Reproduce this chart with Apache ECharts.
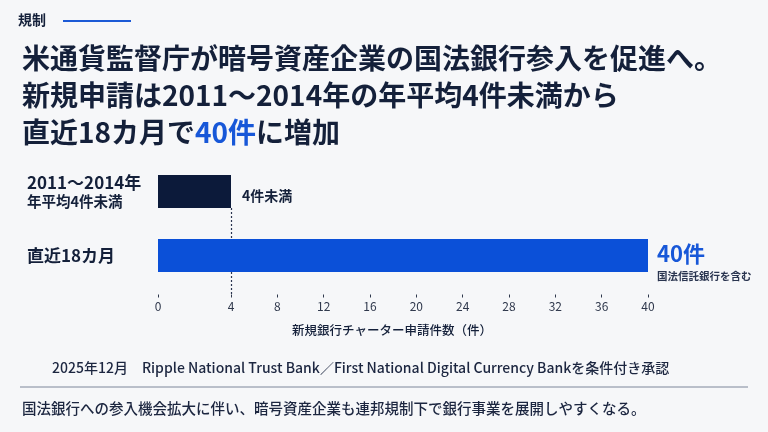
<!DOCTYPE html>
<html><head><meta charset="utf-8">
<script src="https://cdn.jsdelivr.net/npm/echarts@6.0.0/dist/echarts.min.js"></script>
<style>html,body{margin:0;padding:0;background:#f6f7f9}#c{width:768px;height:432px}</style>
</head><body><div id="c"></div>
<script>
const categoryMain = ['2011〜2014年', '直近18カ月'];
const categorySub = ['年平均4件未満', ''];
const values = [4, 40];
const valueLabels = ['4件未満', '40件'];
const valueNotes = ['', '国法信託銀行を含む'];
const breakValue = 4;
const axisMax = 40;
const tickStep = 4;
const axisName = '新規銀行チャーター申請件数（件）';
const kicker = '規制';
const titleLines = ['米通貨監督庁が暗号資産企業の国法銀行参入を促進へ。', '新規申請は2011〜2014年の年平均4件未満から', '直近18カ月で{hl|40件}に増加'];
const footnote = '2025年12月　Ripple National Trust Bank／First National Digital Currency Bankを条件付き承認';
const summary = '国法銀行への参入機会拡大に伴い、暗号資産企業も連邦規制下で銀行事業を展開しやすくなる。';

const NAVY = '#14203a', BAR1 = '#0c1a3a', BLUE = '#0b50d8', FONT = '"Noto Sans CJK JP","Noto Sans",sans-serif';
const barColors = [BAR1, BLUE];
const chart = echarts.init(document.getElementById('c'), null, {renderer: 'canvas'});

const gridTop = 159.5, gridH = 128;
const axisLabelStyle = {color: '#2f384c', fontSize: 12, fontFamily: FONT};
const axisLineStyle = {lineStyle: {color: '#2f384c', width: 1.3}};

const catAxis = (idx, show) => ({
  type: 'category', gridIndex: idx, data: categoryMain, inverse: true, show: show,
  axisLine: {show: false}, axisTick: {show: false},
  axisLabel: {
    show: show, align: 'left', margin: 131,
    formatter: (v, i) => categorySub[i] ? '{a|' + v + '}\n{b|' + categorySub[i] + '}' : '{a|' + v + '}',
    rich: {
      a: {fontSize: 17, fontWeight: 'bold', color: NAVY, fontFamily: FONT, lineHeight: 20},
      b: {fontSize: 14.5, fontWeight: 'bold', color: NAVY, fontFamily: FONT, lineHeight: 18}
    }
  }
});

chart.setOption({
  backgroundColor: '#f6f7f9',
  animation: false,
  title: [
    {text: kicker, left: 18, top: 12, padding: 0, textStyle: {fontSize: 14, fontWeight: 'bold', color: NAVY, fontFamily: FONT, lineHeight: 16}},
    {text: titleLines.join('\n'), left: 22, top: 40, padding: 0,
     textStyle: {fontSize: 28, fontWeight: 'bold', color: NAVY, fontFamily: FONT, lineHeight: 37,
       rich: {hl: {fontSize: 28, fontWeight: 'bold', color: '#1757d8', fontFamily: FONT, lineHeight: 37}}}}
  ],
  graphic: [
    {type: 'line', shape: {x1: 63, y1: 21, x2: 131, y2: 21}, style: {stroke: '#1c5ad6', lineWidth: 2.2}},
    {type: 'text', x: 392, y: 330, style: {text: axisName, fill: NAVY, font: '500 12.5px ' + FONT, textAlign: 'center', textVerticalAlign: 'middle'}},
    {type: 'text', x: 52, y: 368, style: {text: footnote, fill: '#1c2640', font: '500 14px ' + FONT, textVerticalAlign: 'middle'}},
    {type: 'line', shape: {x1: 20, y1: 387, x2: 748, y2: 387}, style: {stroke: '#7d869a', lineWidth: 1}},
    {type: 'text', x: 22, y: 408, style: {text: summary, fill: '#1c2640', font: '500 14.5px ' + FONT, textVerticalAlign: 'middle'}}
  ],
  grid: [
    {left: 158, width: 73, top: gridTop, height: gridH, containLabel: false, outerBoundsMode: 'none'},
    {left: 231, width: 417, top: gridTop, height: gridH, containLabel: false, outerBoundsMode: 'none'},
    {left: 158, width: 73, top: 208, height: 86, containLabel: false, outerBoundsMode: 'none'}
  ],
  xAxis: [
    {type: 'value', gridIndex: 0, min: 0, max: breakValue, interval: tickStep, offset: 7,
     axisLine: axisLineStyle, axisTick: {show: true, length: 3, lineStyle: {color: '#2f384c'}},
     axisLabel: Object.assign({margin: 6}, axisLabelStyle), splitLine: {show: false}},
    {type: 'value', gridIndex: 1, min: breakValue, max: axisMax, interval: tickStep, offset: 7,
     axisLine: axisLineStyle, axisTick: {show: true, length: 3, lineStyle: {color: '#2f384c'}},
     axisLabel: Object.assign({margin: 6, showMinLabel: false}, axisLabelStyle), splitLine: {show: false}},
    {type: 'value', gridIndex: 2, min: 0, max: breakValue, interval: tickStep,
     axisLine: {show: false}, axisTick: {show: false}, axisLabel: {show: false},
     splitLine: {show: true, showMinLine: false, showMaxLine: true, lineStyle: {type: [2, 2], color: '#2a3550', width: 1.2}}}
  ],
  yAxis: [
    catAxis(0, true),
    catAxis(1, false),
    {type: 'value', gridIndex: 2, min: 0, max: 1, show: false}
  ],
  series: [
    {type: 'bar', xAxisIndex: 0, yAxisIndex: 0, barWidth: 33, clip: true, z: 3,
     data: values.map((v, i) => ({
       value: v, itemStyle: {color: barColors[i]},
       label: i === 0 ? {show: true, position: 'right', distance: 11, offset: [0, 4], formatter: valueLabels[i],
         fontSize: 14, fontWeight: 'bold', color: NAVY, fontFamily: FONT} : {show: false}
     }))},
    {type: 'bar', xAxisIndex: 1, yAxisIndex: 1, barWidth: 33, clip: true, z: 3,
     data: values.map((v, i) => v > breakValue ? ({
       value: v, itemStyle: {color: barColors[i]},
       label: {show: true, position: 'right', distance: 9, offset: [0, 8],
         formatter: '{a|' + valueLabels[i] + '}' + (valueNotes[i] ? '\n{b|' + valueNotes[i] + '}' : ''),
         rich: {
           a: {fontSize: 22, fontWeight: 'bold', color: '#1757d8', fontFamily: FONT, lineHeight: 26, align: 'left'},
           b: {fontSize: 10.5, fontWeight: 'bold', color: '#2a3550', fontFamily: FONT, lineHeight: 20, align: 'left'}
         }}
     }) : '-')}
  ]
});
</script></body></html>
